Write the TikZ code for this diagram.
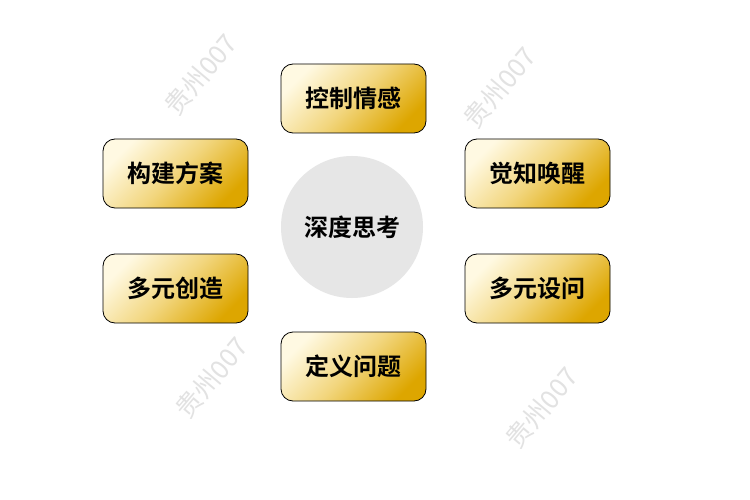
\documentclass[tikz,border=0pt]{standalone}
\usepackage{fontspec}
\setmainfont{Noto Sans CJK SC}
\newfontfamily\cjkbold{Noto Sans CJK SC Bold}
\definecolor{goldlight}{HTML}{FFF9E2}
\definecolor{goldmid}{HTML}{F2D67E}
\definecolor{golddark}{HTML}{DDA600}
\definecolor{circlegray}{HTML}{E6E6E6}
\definecolor{markgray}{HTML}{E2E2E2}
\tikzset{
  idea/.style={shape=rectangle,draw=black,line width=0.8pt,rounded corners=12pt,
    minimum width=145pt,minimum height=69pt,top color=goldlight,bottom color=golddark,
    middle color=goldmid,shading angle=45,font=\cjkbold\fontsize{24}{24}\selectfont},
  core/.style={shape=circle,fill=circlegray,minimum size=142pt,inner sep=0pt,
    font=\cjkbold\fontsize{24}{24}\selectfont},
  wmark/.style={text=markgray,rotate=50,font=\fontsize{26}{26}\selectfont}
}
\begin{document}
\begin{tikzpicture}[x=1pt,y=-1pt]
    \useasboundingbox[fill=white] (0,0) rectangle (750,500);
    \node[wmark] (wm-1) at (201,75) {贵州007};
    \node[wmark] (wm-2) at (500,88) {贵州007};
    \node[wmark] (wm-3) at (212,378) {贵州007};
    \node[wmark] (wm-4) at (542,408) {贵州007};
    \node[core] (think) at (352,227) {\raisebox{-2pt}{深度思考}};
    \node[idea] (ctrl) at (353.5,98.5) {控制情感};
    \node[idea] (build) at (175.5,173.5) {构建方案};
    \node[idea] (aware) at (537.5,173.5) {觉知唤醒};
    \node[idea] (create) at (175.5,288.5) {多元创造};
    \node[idea] (ask) at (537.5,288.5) {多元设问};
    \node[idea] (define) at (353.5,366.5) {定义问题};
\end{tikzpicture}
\end{document}
